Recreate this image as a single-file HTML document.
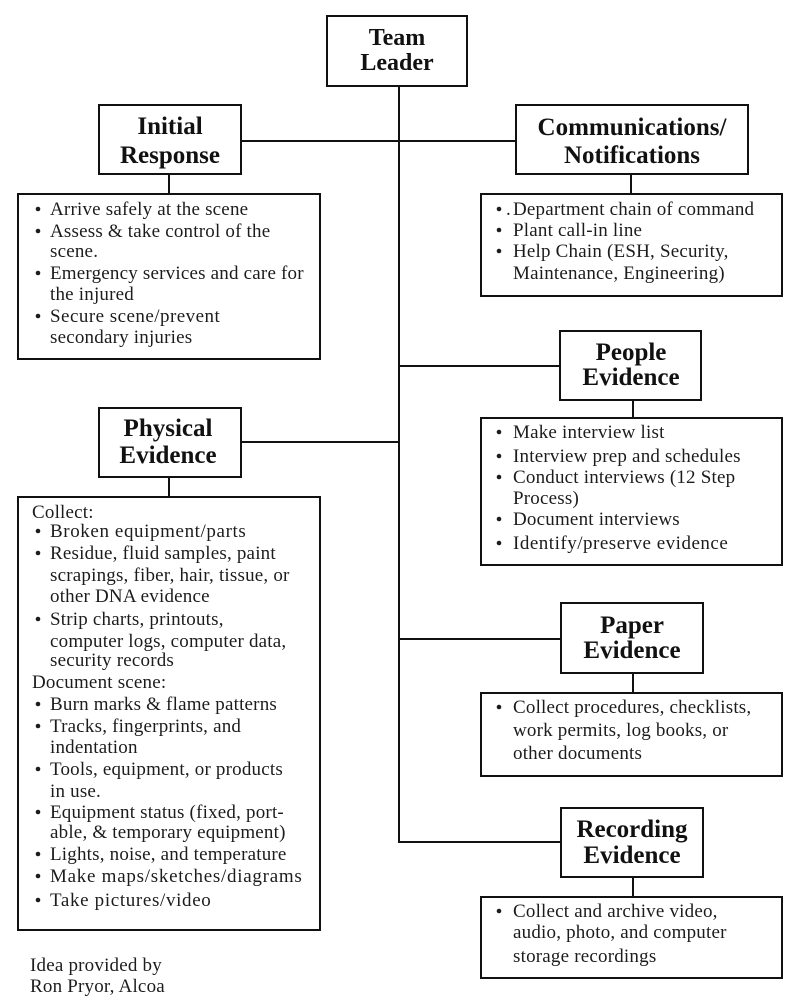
<!DOCTYPE html>
<html><head><meta charset="utf-8"><style>
html,body{margin:0;padding:0;background:#fff;}
svg{display:block;}
.h{font-family:"Liberation Serif",serif;font-weight:bold;font-size:25px;fill:#111;text-anchor:middle;}
.t{font-family:"Liberation Serif",serif;font-size:19px;fill:#1c1c1c;letter-spacing:0.2px;}
</style></head><body>
<svg width="800" height="1001" viewBox="0 0 800 1001" xmlns="http://www.w3.org/2000/svg">
<g fill="none" stroke="#111" stroke-width="2">
<rect x="327" y="16" width="140" height="70"/>
<rect x="99" y="105" width="142" height="69"/>
<rect x="516" y="105" width="232" height="69"/>
<rect x="18" y="194" width="302" height="165"/>
<rect x="481" y="194" width="301" height="102"/>
<rect x="560" y="331" width="141" height="69"/>
<rect x="481" y="418" width="301" height="147"/>
<rect x="99" y="408" width="142" height="69"/>
<rect x="18" y="497" width="302" height="433"/>
<rect x="561" y="603" width="142" height="70"/>
<rect x="481" y="693" width="301" height="83"/>
<rect x="561" y="808" width="142" height="69"/>
<rect x="481" y="897" width="301" height="81"/>
<path d="M399 87V843 M242 141H515 M399 366H559 M242 442H399 M399 639H560 M399 842H560 M169 175V193 M169 478V496 M631 175V193 M633 401V417 M633 674V692 M633 878V896"/>
</g>
<text class="h" x="397" y="45" style="font-size:24px">Team</text>
<text class="h" x="397" y="70" style="font-size:24px">Leader</text>
<text class="h" x="170" y="134">Initial</text>
<text class="h" x="170" y="163">Response</text>
<text class="h" x="632" y="135">Communications/</text>
<text class="h" x="632" y="163">Notifications</text>
<text class="h" x="631" y="360">People</text>
<text class="h" x="631" y="385">Evidence</text>
<text class="h" x="168" y="436">Physical</text>
<text class="h" x="168" y="463">Evidence</text>
<text class="h" x="632" y="633">Paper</text>
<text class="h" x="632" y="658">Evidence</text>
<text class="h" x="632" y="837">Recording</text>
<text class="h" x="632" y="863">Evidence</text>
<g fill="#1c1c1c">
<circle cx="38" cy="209" r="2.3"/><circle cx="38" cy="231" r="2.3"/><circle cx="38" cy="273" r="2.3"/><circle cx="38" cy="316" r="2.3"/>
<circle cx="499" cy="209" r="2.3"/><circle cx="499" cy="230" r="2.3"/><circle cx="499" cy="251" r="2.3"/>
<circle cx="499" cy="432" r="2.3"/><circle cx="499" cy="456" r="2.3"/><circle cx="499" cy="477" r="2.3"/><circle cx="499" cy="519" r="2.3"/><circle cx="499" cy="543" r="2.3"/>
<circle cx="38" cy="531" r="2.3"/><circle cx="38" cy="553" r="2.3"/><circle cx="38" cy="619" r="2.3"/>
<circle cx="38" cy="704" r="2.3"/><circle cx="38" cy="726" r="2.3"/><circle cx="38" cy="769" r="2.3"/><circle cx="38" cy="812" r="2.3"/><circle cx="38" cy="854" r="2.3"/><circle cx="38" cy="876" r="2.3"/><circle cx="38" cy="900" r="2.3"/>
<circle cx="499" cy="707" r="2.3"/><circle cx="499" cy="911" r="2.3"/>
</g>
<text class="t" x="50" y="215">Arrive safely at the scene</text>
<text class="t" x="50" y="237">Assess &amp; take control of the</text>
<text class="t" x="50" y="257">scene.</text>
<text class="t" x="50" y="279">Emergency services and care for</text>
<text class="t" x="50" y="300">the injured</text>
<text class="t" x="50" y="322" textLength="170" lengthAdjust="spacing">Secure scene/prevent</text>
<text class="t" x="50" y="343">secondary injuries</text>

<text class="t" x="506" y="215">.</text>
<text class="t" x="513" y="215">Department chain of command</text>
<text class="t" x="513" y="236">Plant call-in line</text>
<text class="t" x="513" y="257">Help Chain (ESH, Security,</text>
<text class="t" x="513" y="279">Maintenance, Engineering)</text>

<text class="t" x="513" y="438">Make interview list</text>
<text class="t" x="513" y="462">Interview prep and schedules</text>
<text class="t" x="513" y="483">Conduct interviews (12 Step</text>
<text class="t" x="513" y="504">Process)</text>
<text class="t" x="513" y="525">Document interviews</text>
<text class="t" x="513" y="549" textLength="215" lengthAdjust="spacing">Identify/preserve evidence</text>

<text class="t" x="32" y="518">Collect:</text>
<text class="t" x="50" y="537" textLength="196" lengthAdjust="spacing">Broken equipment/parts</text>
<text class="t" x="50" y="559">Residue, fluid samples, paint</text>
<text class="t" x="50" y="581">scrapings, fiber, hair, tissue, or</text>
<text class="t" x="50" y="602">other DNA evidence</text>
<text class="t" x="50" y="625">Strip charts, printouts,</text>
<text class="t" x="50" y="647">computer logs, computer data,</text>
<text class="t" x="50" y="666">security records</text>
<text class="t" x="32" y="688">Document scene:</text>
<text class="t" x="50" y="710">Burn marks &amp; flame patterns</text>
<text class="t" x="50" y="732">Tracks, fingerprints, and</text>
<text class="t" x="50" y="753">indentation</text>
<text class="t" x="50" y="775">Tools, equipment, or products</text>
<text class="t" x="50" y="797">in use.</text>
<text class="t" x="50" y="818">Equipment status (fixed, port-</text>
<text class="t" x="50" y="838">able, &amp; temporary equipment)</text>
<text class="t" x="50" y="860">Lights, noise, and temperature</text>
<text class="t" x="50" y="882" textLength="252" lengthAdjust="spacing">Make maps/sketches/diagrams</text>
<text class="t" x="50" y="906" textLength="161" lengthAdjust="spacing">Take pictures/video</text>

<text class="t" x="513" y="713">Collect procedures, checklists,</text>
<text class="t" x="513" y="736">work permits, log books, or</text>
<text class="t" x="513" y="759">other documents</text>

<text class="t" x="513" y="917">Collect and archive video,</text>
<text class="t" x="513" y="938">audio, photo, and computer</text>
<text class="t" x="513" y="962">storage recordings</text>

<text class="t" x="30" y="971">Idea provided by</text>
<text class="t" x="30" y="992">Ron Pryor, Alcoa</text>
</svg>
</body></html>
